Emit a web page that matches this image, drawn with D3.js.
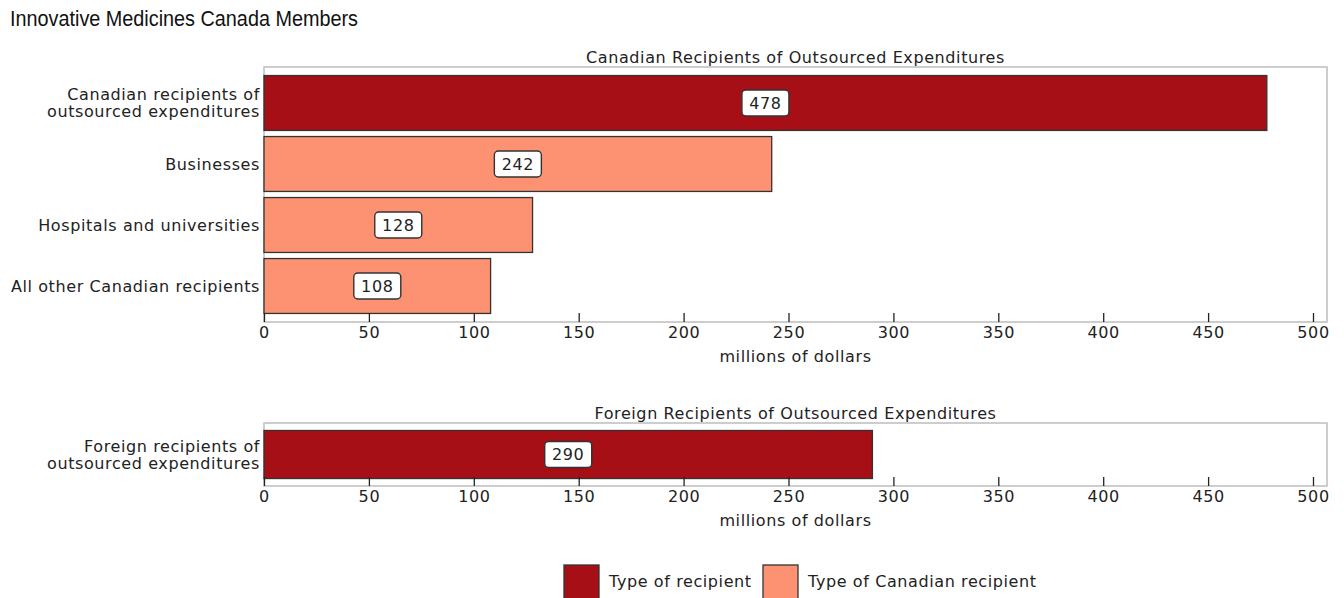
<!DOCTYPE html>
<html>
<head>
<meta charset="utf-8">
<script src="https://cdn.jsdelivr.net/npm/d3@7"></script>
<style>
  html, body { margin: 0; padding: 0; background: #fff; }
  svg { display: block; }
  .lbl { font-family: "DejaVu Sans", Verdana, sans-serif; font-size: 16px; letter-spacing: 0.6px; fill: #222; }
  .title { font-family: "Liberation Sans Narrow", "Arial Narrow", "Liberation Sans", sans-serif; font-size: 22px; fill: #111; }
</style>
</head>
<body>
<svg id="chart" width="1344" height="598"></svg>
<script>
// Outsourced expenditures, millions of dollars
const canadianCategories = ["Canadian recipients of\noutsourced expenditures", "Businesses", "Hospitals and universities", "All other Canadian recipients"];
const canadianValues = [478, 242, 128, 108];
const canadianTypes = ["recipient", "canadian", "canadian", "canadian"];

const foreignCategories = ["Foreign recipients of\noutsourced expenditures"];
const foreignValues = [290];
const foreignTypes = ["recipient"];

const xTicks = [0, 50, 100, 150, 200, 250, 300, 350, 400, 450, 500];
const legendLabels = ["Type of recipient", "Type of Canadian recipient"];
const legendKeys = ["recipient", "canadian"];

const colors = { recipient: "#a50f15", canadian: "#fc9272" };

const svg = d3.select("#chart");

svg.append("text").attr("class", "title")
  .attr("x", 10).attr("y", 26)
  .attr("textLength", 348).attr("lengthAdjust", "spacingAndGlyphs")
  .text("Innovative Medicines Canada Members");

const x = d3.scaleLinear().domain([0, 500]).range([264, 1313]);
const frameRight = 1327;

function panel(cfg) {
  const data = cfg.categories.map((c, i) => ({ cat: c, value: cfg.values[i], type: cfg.types[i] }));
  const y = d3.scaleBand().domain(cfg.categories).range([cfg.top, cfg.bottom])
    .paddingInner(0.1).paddingOuter(0.14);
  const g = svg.append("g");

  // frame
  g.append("rect")
    .attr("x", x(0)).attr("y", cfg.top)
    .attr("width", frameRight - x(0)).attr("height", cfg.bottom - cfg.top)
    .attr("fill", "none").attr("stroke", "#bdbdbd").attr("stroke-width", 1.5);

  // panel title
  g.append("text").attr("class", "lbl")
    .attr("x", (x(0) + frameRight) / 2).attr("y", cfg.top - 4)
    .attr("text-anchor", "middle").text(cfg.title);

  // bars
  g.selectAll("rect.bar").data(data).join("rect")
    .attr("class", "bar")
    .attr("x", x(0)).attr("y", d => y(d.cat))
    .attr("width", d => x(d.value) - x(0)).attr("height", y.bandwidth())
    .attr("fill", d => colors[d.type])
    .attr("stroke", "#333").attr("stroke-width", 1.3);

  // value labels in white rounded boxes
  const vl = g.selectAll("g.vl").data(data).join("g")
    .attr("class", "vl")
    .attr("transform", d => `translate(${(x(0) + x(d.value)) / 2},${y(d.cat) + y.bandwidth() / 2})`);
  vl.each(function (d) {
    const s = d3.select(this);
    const t = s.append("text").attr("class", "lbl")
      .attr("text-anchor", "middle").attr("dy", "0.36em").text(d.value);
    const w = 47;
    s.insert("rect", "text")
      .attr("x", -w / 2).attr("y", -13).attr("width", w).attr("height", 26)
      .attr("rx", 4).attr("fill", "#fff").attr("stroke", "#333").attr("stroke-width", 1.4);
  });

  // category labels
  g.selectAll("text.cat").data(data).join("text")
    .attr("class", "lbl cat")
    .attr("text-anchor", "end")
    .attr("x", x(0) - 4)
    .each(function (d) {
      const lines = d.cat.split("\n");
      const cy = y(d.cat) + y.bandwidth() / 2;
      const t = d3.select(this);
      lines.forEach((ln, i) => {
        t.append("tspan").attr("x", x(0) - 4)
          .attr("y", cy + (i - (lines.length - 1) / 2) * 17)
          .attr("dy", "0.36em").text(ln);
      });
    });

  // x axis: ticks pointing up into the plot
  const axis = d3.axisBottom(x).tickValues(xTicks).tickSize(0).tickPadding(0);
  const ag = g.append("g").attr("transform", `translate(0,${cfg.bottom})`).call(axis);
  ag.select(".domain").remove();
  ag.selectAll(".tick line").attr("y1", 0).attr("y2", -9).attr("stroke", "#222").attr("stroke-width", 1.3);
  ag.selectAll(".tick text").attr("class", "lbl").attr("y", 5).attr("dy", "0.71em")
    .style("font-size", "16px").style("font-family", "\"DejaVu Sans\", Verdana, sans-serif").attr("fill", "#222");

  g.append("text").attr("class", "lbl")
    .attr("x", (x(0) + frameRight) / 2).attr("y", cfg.bottom + 40)
    .attr("text-anchor", "middle").text("millions of dollars");
}

panel({ categories: canadianCategories, values: canadianValues, types: canadianTypes,
        top: 67, bottom: 322, title: "Canadian Recipients of Outsourced Expenditures" });
panel({ categories: foreignCategories, values: foreignValues, types: foreignTypes,
        top: 423, bottom: 486, title: "Foreign Recipients of Outsourced Expenditures" });

// legend
const legend = svg.append("g");
const legendX = [564, 763];
legendKeys.forEach((k, i) => {
  legend.append("rect")
    .attr("x", legendX[i]).attr("y", 565).attr("width", 35).attr("height", 36)
    .attr("fill", colors[k]).attr("stroke", "#333").attr("stroke-width", 1.3);
  legend.append("text").attr("class", "lbl")
    .attr("x", legendX[i] + 45).attr("y", 587).text(legendLabels[i]);
});
</script>
</body>
</html>
